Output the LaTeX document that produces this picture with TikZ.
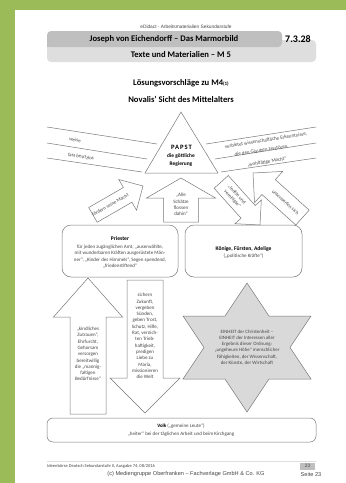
\documentclass[tikz,border=0pt]{standalone}
\usepackage{fontspec}
\setmainfont{Carlito}
\newfontfamily\arialfont{Liberation Sans}
\definecolor{pagegreen}{RGB}{155,187,89}
\definecolor{bardark}{RGB}{191,191,191}
\definecolor{barlight}{RGB}{222,222,222}
\definecolor{linegray}{RGB}{120,120,120}
\definecolor{stargray}{RGB}{217,217,217}
\definecolor{txtgray}{RGB}{70,70,70}
\newcommand{\blockarrow}[7]{%
  \begin{scope}[shift={(#1,#2)}, rotate=#3]
    \draw[shapeline, fill=white] (0,0) -- (-#7,#6) -- (-#7,#5) -- (-#4,#5)
      -- (-#4,-#5) -- (-#7,-#5) -- (-#7,-#6) -- cycle;
  \end{scope}}
\tikzset{
  shapeline/.style={draw=linegray, line width=0.5pt},
  roundbox/.style={shapeline, rounded corners=9pt},
  sm/.style={font=\fontsize{5}{6.3}\selectfont, align=center, inner sep=0pt, text=txtgray},
  smb/.style={font=\bfseries\fontsize{5.6}{6.3}\selectfont, align=center, inner sep=0pt},
  headb/.style={font=\bfseries\fontsize{8.6}{10}\selectfont, inner sep=0pt},
  arialsm/.style={font=\arialfont\fontsize{5.6}{6.5}\selectfont, inner sep=0pt},
}
\begin{document}
\begin{tikzpicture}[x=1pt,y=-1pt]
\useasboundingbox (0,0) rectangle (346,483);
\fill[white] (0,0) rectangle (346,483);
\fill[pagegreen] (0,0) rectangle (346,9.5);
\fill[pagegreen] (0,0) rectangle (15,483);

% header
\node[arialsm, font=\arialfont\fontsize{4.8}{5}\selectfont, text=txtgray] (edid) at (186,27) {eDidact - Arbeitsmaterialien Sekundarstufe};
\fill[barlight, rounded corners=4pt] (47,40) rectangle (316,62);
\fill[bardark, rounded corners=4pt] (47,31) rectangle (282,47);
\fill[bardark] (47,40) rectangle (60,47);
\node[headb] (t1) at (164,39.5) {Joseph von Eichendorff – Das Marmorbild};
\node[headb, font=\bfseries\fontsize{10}{11}\selectfont] (num) at (298,39) {7.3.28};
\node[headb] (t2) at (181,55) {Texte und Materialien – M 5};

\node[headb] (t3) at (181,83) {Lösungsvorschläge zu M4{\fontsize{5}{6}\selectfont(1)}};
\node[headb] (t4) at (181,99) {Novalis’ Sicht des Mittelalters};

% papst triangle
\draw[shapeline] (181,112) -- (218,173) -- (145,173) -- cycle;
\node[font=\bfseries\fontsize{6.6}{7}\selectfont\addfontfeature{LetterSpace=14}, inner sep=0pt] (papst) at (181.5,147.5) {PAPST};
\node[smb, font=\bfseries\fontsize{5.4}{7.8}\selectfont] (regier) at (181,160) {die göttliche\\Regierung};

% side lines
\coordinate (l1a) at (47,127); \coordinate (l1b) at (157,144);
\coordinate (l2a) at (47,143); \coordinate (l2b) at (147,159);
\coordinate (l3a) at (47,158); \coordinate (l3b) at (142,172);
\coordinate (r1a) at (206,144); \coordinate (r1b) at (316,127);
\coordinate (r2a) at (215,159); \coordinate (r2b) at (316,143);
\coordinate (r3a) at (221,172); \coordinate (r3b) at (316,158);
\draw[shapeline] (l1a) -- (l1b);
\draw[shapeline] (l2a) -- (l2b);
\draw[shapeline] (l3a) -- (l3b);
\draw[shapeline] (r1a) -- (r1b);
\draw[shapeline] (r2a) -- (r2b);
\draw[shapeline] (r3a) -- (r3b);
\node[sm, rotate=-9] (weise) at (75,140) {weise};
\node[sm, rotate=-9] (besitz) at (81,156.5) {fast besitzlos};
\node[sm, rotate=9] (verb) at (266,140.5) {verbietet wissenschaftliche Erkenntnisse,};
\node[sm, rotate=9] (glaub) at (261,150.5) {die den Glauben zerstören};
\node[sm, rotate=9] (wohl) at (267,162) {„wohltätige Macht“};

% middle arrows
\blockarrow{143}{186}{30}{57.8}{8.5}{17.7}{17.7}
\node[sm, rotate=30] (foerd) at (110.3,204.9) {fördern seine Macht};
\blockarrow{181}{178}{90}{44}{17.5}{34.5}{20}
\node[sm] (schaetze) at (181,204.5) {„Alle\\Schätze\\flossen\\dahin“};
\blockarrow{260}{225}{-48}{58}{9.5}{17.7}{17.7}
\node[sm, rotate=-48] (lenkte) at (234.6,196.8) {„lenkte und\\vereinigte“};
\blockarrow{253}{173}{138}{66.6}{10}{21}{21}
\node[sm, rotate=-42] (unterw) at (285.5,202.3) {unterwerfen sich};

% boxes
\draw[roundbox] (62,225) rectangle (178,277);
\node[smb] (priest) at (120,239) {Priester};
\node[sm] (priesttxt) at (120,256.5) {für jeden zugänglichen Amt, „auserwählte,\\mit wunderbaren Kräften ausgerüstete Män-\\ner“, „Kinder des Himmels“, Segen spendend,\\„friedenstiftend“};
\draw[roundbox] (185,225) rectangle (302,277);
\node[smb] (koenig) at (243.5,249) {Könige, Fürsten, Adelige};
\node[sm] (polit) at (243.5,256) {(„politische Kräfte“)};

% lower arrows
\blockarrow{88}{278}{90}{136}{18}{34.5}{39}
\node[sm] (kindl) at (88,354) {„kindliches\\Zutrauen“,\\Ehrfurcht,\\Gehorsam\\versorgen\\bereitwillig\\die „mannig-\\faltigen\\Bedürfnisse“};
\blockarrow{145}{413}{-90}{133}{18}{35}{35}
\node[sm] (sichern) at (145,336) {sichern\\Zukunft,\\vergeben\\Sünden,\\geben Trost,\\Schutz, Hilfe,\\Rat, vernich-\\ten Trieb-\\haftigkeit,\\predigen\\Liebe zu\\Maria,\\missionieren\\die Welt};

% star
\draw[shapeline, fill=stargray] (247,283) -- (269,316) -- (311,316) -- (290,347.5) -- (311,379) -- (269,379) -- (247,412) -- (225,379) -- (183,379) -- (204,347.5) -- (183,316) -- (225,316) -- cycle;
\node[sm, font=\fontsize{4.9}{6.2}\selectfont] (einheit) at (247,347.5) {EINHEIT der Christenheit –\\EINHEIT der Interessen aller\\Ergebnis dieser Ordnung:\\„ungeheure Höhe“ menschlicher\\Fähigkeiten, der Wissenschaft,\\der Künste, der Wirtschaft};

% volk
\draw[roundbox, rounded corners=6pt] (47,418) rectangle (316,442);
\node[sm] (volk) at (181,426) {\textbf{\textcolor{black}{Volk}} („gemeine Leute“)};
\node[sm] (heiter) at (181,434) {„heiter“ bei der täglichen Arbeit und beim Kirchgang};

% footer
\draw[line width=0.3pt, draw=barlight] (47,461.5) -- (316,461.5);
\node[sm, anchor=west, font=\fontsize{4.5}{5}\selectfont] (ideen) at (47,466) {Ideenbörse Deutsch Sekundarstufe II, Ausgabe 74, 08/2016};
\fill[bardark] (300,462.5) rectangle (315,469.5);
\node[sm, font=\fontsize{5.2}{6}\selectfont] (pg) at (307.5,466) {23};
\node[arialsm, text=txtgray] (copy) at (186,474) {(c) Mediengruppe Oberfranken – Fachverlage GmbH \& Co. KG};
\node[arialsm, text=txtgray] (seite) at (311,474) {Seite 23};
\end{tikzpicture}
\end{document}
